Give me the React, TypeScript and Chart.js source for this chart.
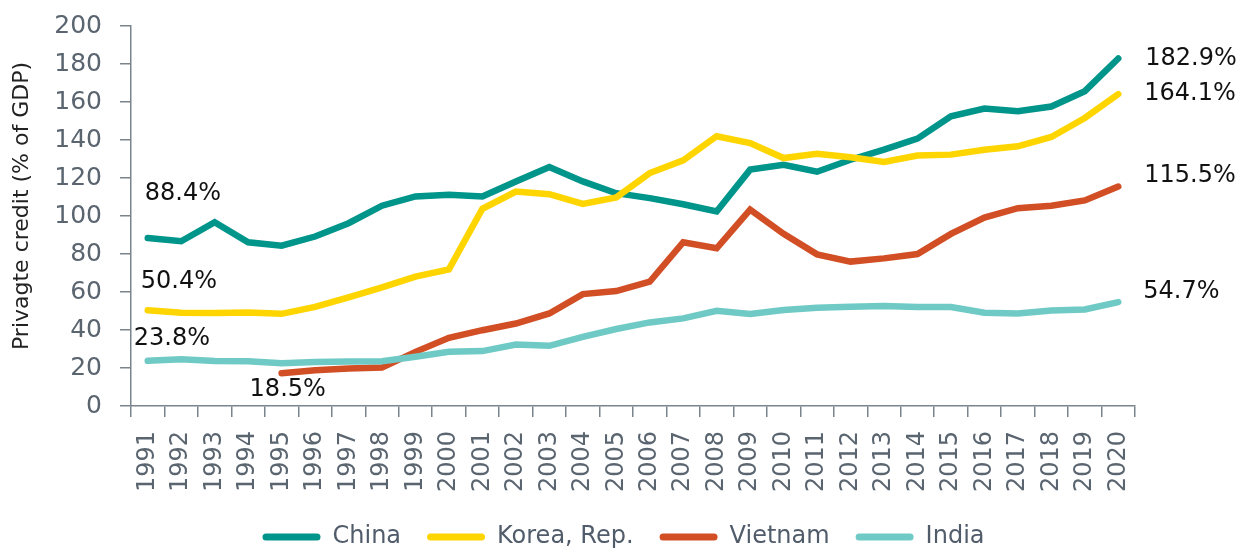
import React, { useEffect, useRef } from "react";
import { Chart, registerables } from "chart.js";

Chart.register(...registerables);

const years = [
  "1991", "1992", "1993", "1994", "1995", "1996", "1997", "1998", "1999", "2000",
  "2001", "2002", "2003", "2004", "2005", "2006", "2007", "2008", "2009", "2010",
  "2011", "2012", "2013", "2014", "2015", "2016", "2017", "2018", "2019", "2020",
];

const china = [
  88.4, 86.7, 96.7, 86.2, 84.4, 89.2, 96.2, 105.4, 110.3, 111.2,
  110.3, 118.2, 125.8, 118.2, 112.0, 109.4, 106.2, 102.4, 124.4, 127.0,
  123.3, 129.6, 134.9, 140.7, 152.5, 156.6, 155.1, 157.6, 165.7, 182.9,
];

const korea = [
  50.4, 49.1, 48.9, 49.2, 48.5, 52.2, 57.2, 62.4, 68.1, 71.9,
  103.8, 112.9, 111.5, 106.4, 109.8, 122.6, 129.3, 142.0, 138.4, 130.5,
  132.7, 130.9, 128.4, 131.8, 132.3, 134.9, 136.7, 141.6, 151.6, 164.1,
];

const vietnam = [
  null, null, null, null, 17.2, 18.8, 19.7, 20.2, 28.5, 35.9,
  39.9, 43.4, 48.7, 58.9, 60.5, 65.4, 86.2, 83.0, 103.3, 90.6,
  79.8, 76.0, 77.7, 80.0, 90.6, 99.2, 104.1, 105.4, 108.2, 115.5,
];

const india = [
  23.8, 24.6, 23.7, 23.6, 22.5, 23.2, 23.4, 23.6, 25.9, 28.5,
  28.9, 32.4, 31.7, 36.4, 40.5, 44.0, 46.1, 50.1, 48.4, 50.5,
  51.7, 52.2, 52.6, 52.1, 52.1, 49.1, 48.7, 50.3, 50.8, 54.7,
];

const seriesNames = ["China", "Korea, Rep.", "Vietnam", "India"];
const seriesColors = ["#00958A", "#FFD500", "#D24F26", "#6FCAC5"];

const yTicks = [0, 20, 40, 60, 80, 100, 120, 140, 160, 180, 200];
const yTitle = "Privagte credit (% of GDP)";

// value labels: which series / point they describe
const valueLabels = [
  { series: 0, index: 0, text: "88.4%" },
  { series: 1, index: 0, text: "50.4%" },
  { series: 3, index: 0, text: "23.8%" },
  { series: 2, index: 4, text: "18.5%" },
  { series: 0, index: 29, text: "182.9%" },
  { series: 1, index: 29, text: "164.1%" },
  { series: 2, index: 29, text: "115.5%" },
  { series: 3, index: 29, text: "54.7%" },
];
// pixel offsets of each label from its point (style only)
const labelOffsets = [
  [-3, -44], [-7, -28], [-14, -22], [-32, 16],
  [27, 0], [26, 0], [26, -11], [25, -10],
];

const FONT = "'DejaVu Sans', Verdana, sans-serif";
const TICK_COLOR = "#5A6570";
const AXIS_COLOR = "#7A848D";

const labelsPlugin = {
  id: "valueLabels",
  afterDatasetsDraw(chart: any) {
    const ctx = chart.ctx;
    ctx.save();
    ctx.font = `24px ${FONT}`;
    ctx.fillStyle = "#111111";
    ctx.textAlign = "left";
    ctx.textBaseline = "middle";
    valueLabels.forEach((l, i) => {
      const meta = chart.getDatasetMeta(l.series);
      const pt = meta.data[l.index];
      if (!pt) return;
      const [dx, dy] = labelOffsets[i];
      ctx.fillText(l.text, pt.x + dx, pt.y + dy);
    });
    ctx.restore();
  },
};

const yTitlePlugin = {
  id: "yTitle",
  afterDraw(chart: any) {
    const { ctx, chartArea } = chart;
    ctx.save();
    ctx.font = `22px ${FONT}`;
    ctx.fillStyle = "#222222";
    ctx.textAlign = "center";
    ctx.textBaseline = "middle";
    ctx.translate(22, (chartArea.top + chartArea.bottom) / 2 - 10);
    ctx.rotate(-Math.PI / 2);
    ctx.fillText(yTitle, 0, 0);
    ctx.restore();
  },
};

export default function App() {
  const ref = useRef<HTMLCanvasElement>(null);

  useEffect(() => {
    if (!ref.current) return;
    const seriesData = [china, korea, vietnam, india];
    const chart = new Chart(ref.current, {
      type: "line",
      data: {
        labels: years,
        datasets: seriesData.map((d, i) => ({
          label: seriesNames[i],
          data: d,
          borderColor: seriesColors[i],
          backgroundColor: seriesColors[i],
          borderWidth: 6.5,
          borderCapStyle: "round",
          pointRadius: 0,
          pointHoverRadius: 0,
          tension: 0,
          spanGaps: false,
          order: 4 - i,
          yAxisID: "y",
        })),
      },
      options: {
        responsive: false,
        animation: false,
        events: [],
        layout: { padding: { left: 0, top: 18, right: 0, bottom: 0 } },
        scales: {
          x: {
            type: "category",
            offset: true,
            grid: {
              offset: true,
              drawOnChartArea: false,
              drawTicks: true,
              tickLength: 11,
              color: AXIS_COLOR,
              lineWidth: 1.5,
            },
            border: { display: true, color: AXIS_COLOR, width: 1.5 },
            ticks: {
              minRotation: 90,
              maxRotation: 90,
              autoSkip: false,
              padding: 14,
              color: TICK_COLOR,
              font: { family: FONT, size: 24 },
            },
            afterFit(scale: any) {
              scale.height = 93;
            },
          },
          y: {
            min: 0,
            max: 200,
            afterBuildTicks(scale: any) {
              scale.ticks = yTicks.map((v) => ({ value: v }));
            },
            grid: {
              drawOnChartArea: false,
              drawTicks: true,
              tickLength: 11,
              color: AXIS_COLOR,
              lineWidth: 1.5,
            },
            border: { display: true, color: AXIS_COLOR, width: 1.5 },
            ticks: {
              padding: 18,
              color: TICK_COLOR,
              font: { family: FONT, size: 25 },
            },
            afterFit(scale: any) {
              scale.width = 131;
            },
          },
          yRight: {
            type: "linear",
            position: "right",
            display: true,
            grid: { display: false, drawTicks: false },
            border: { display: false },
            ticks: { display: false },
            afterFit(scale: any) {
              scale.width = 112;
            },
          },
        },
        plugins: {
          title: { display: false },
          tooltip: { enabled: false },
          legend: {
            display: true,
            position: "bottom",
            labels: {
              boxWidth: 58,
              boxHeight: 7,
              useBorderRadius: true,
              borderRadius: 3.5,
              padding: 26,
              color: "#515C6B",
              font: { family: FONT, size: 24 },
              sort: (a: any, b: any) => a.datasetIndex - b.datasetIndex,
              generateLabels(c: any) {
                const items = Chart.defaults.plugins.legend.labels.generateLabels(c);
                return items.map((it: any) => ({
                  ...it,
                  fillStyle: seriesColors[it.datasetIndex],
                  strokeStyle: seriesColors[it.datasetIndex],
                  lineWidth: 0,
                }));
              },
            },
          },
        },
      },
      plugins: [labelsPlugin, yTitlePlugin],
    } as any);
    return () => chart.destroy();
  }, []);

  return (
    <div style={{ position: "fixed", left: 0, top: -7, width: 1247, height: 566, background: "#fff" }}>
      <canvas ref={ref} width={1247} height={566} />
    </div>
  );
}
